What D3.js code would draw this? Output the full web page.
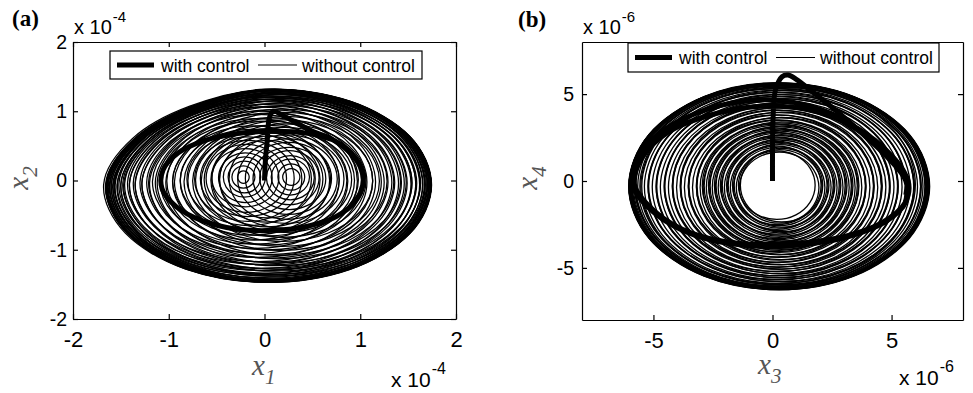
<!DOCTYPE html>
<html><head><meta charset="utf-8">
<script src="https://cdn.jsdelivr.net/npm/d3@7"></script>
<style>body{margin:0;background:#fff}svg{display:block}</style>
</head><body>
<svg id="c" width="973" height="393"></svg>
<script>
// ---------- DATA (units: panel a ×1e-4, panel b ×1e-6) ----------
const ticksA = [-2, -1, 0, 1, 2];
const ticksB = [-5, 0, 5];
const legendLabels = ["with control", "without control"];

// outline of the large loops, read at 0°,30°,...,330° (relative radius)
const shapeA = [1, 1, 0.995, 0.985, 0.935, 0.95, 1, 1, 1, 1, 1, 1];
const shapeB = [1, 1, 1, 1, 1, 1, 1, 1, 1, 1, 1, 1];

// panel (a) uncontrolled trajectory, read as loops [cx, cy, rx, ry]
const freeLoopsA = [
  // loops centred left of origin
  [-0.22,0.05,0.06,0.09],[-0.22,0.05,0.12,0.16],[-0.21,0.05,0.17,0.23],[-0.21,0.05,0.22,0.29],
  [-0.20,0.04,0.28,0.36],[-0.20,0.04,0.35,0.42],[-0.19,0.03,0.42,0.49],[-0.18,0.03,0.49,0.55],
  [-0.17,0.02,0.56,0.61],[-0.16,0.02,0.65,0.67],[-0.15,0.01,0.73,0.73],[-0.14,0.00,0.82,0.79],
  [-0.12,0.00,0.90,0.86],[-0.11,-0.01,0.98,0.91],[-0.10,-0.01,1.07,0.97],[-0.08,-0.02,1.15,1.03],
  [-0.07,-0.02,1.23,1.09],[-0.06,-0.03,1.31,1.14],[-0.05,-0.03,1.38,1.18],[-0.04,-0.04,1.44,1.23],
  [-0.03,-0.04,1.49,1.26],[-0.02,-0.05,1.55,1.29],[-0.01,-0.05,1.59,1.32],[0.00,-0.06,1.62,1.34],
  [0.00,-0.06,1.65,1.37],[0.01,-0.06,1.67,1.39],[0.01,-0.06,1.69,1.40],
  // loops centred right of origin
  [0.28,0.05,0.09,0.12],[0.28,0.05,0.14,0.19],[0.27,0.05,0.20,0.26],[0.27,0.04,0.25,0.32],
  [0.26,0.04,0.31,0.39],[0.26,0.03,0.38,0.45],[0.25,0.03,0.45,0.52],[0.24,0.02,0.52,0.58],
  [0.23,0.02,0.60,0.64],[0.22,0.01,0.69,0.70],[0.21,0.01,0.77,0.76],[0.20,0.00,0.86,0.82],
  [0.19,0.00,0.94,0.88],[0.18,-0.01,1.02,0.94],[0.17,-0.01,1.11,1.00],[0.16,-0.02,1.19,1.06],
  [0.15,-0.02,1.27,1.11],[0.14,-0.03,1.34,1.16],[0.13,-0.03,1.41,1.20],[0.12,-0.04,1.47,1.24],
  [0.11,-0.04,1.52,1.27],[0.10,-0.05,1.57,1.31],[0.10,-0.05,1.60,1.33],[0.09,-0.06,1.63,1.36],
  [0.09,-0.06,1.65,1.38],[0.08,-0.06,1.66,1.39],
  // loops centred near origin (fill and outer band)
  [0.03,0.02,0.50,0.56],[0.03,0.02,0.58,0.62],[0.03,0.01,0.66,0.68],[0.03,0.01,0.75,0.74],
  [0.03,0.00,0.83,0.80],[0.03,0.00,0.91,0.86],[0.03,-0.01,0.99,0.92],[0.03,-0.01,1.10,0.99],
  [0.04,-0.02,1.18,1.05],[0.04,-0.02,1.25,1.10],[0.04,-0.03,1.32,1.15],[0.04,-0.03,1.39,1.19],
  [0.04,-0.04,1.45,1.23],[0.04,-0.04,1.50,1.26],[0.04,-0.05,1.54,1.29],[0.045,-0.05,1.58,1.31],
  [0.045,-0.05,1.61,1.33],[0.045,-0.06,1.63,1.35],[0.045,-0.06,1.645,1.37],[0.045,-0.06,1.66,1.38],
  [0.045,-0.06,1.675,1.39],[0.045,-0.065,1.685,1.395],[0.045,-0.065,1.695,1.40],[0.045,-0.065,1.70,1.405],
  [0.05,-0.07,1.69,1.40],[0.04,-0.06,1.68,1.395],[0.06,-0.06,1.675,1.385],[0.03,-0.07,1.685,1.40]
];

// panel (a) controlled trajectory [x1, x2]
const ctrlPathA = [
  [0,0],[0.01,0.3],[0.03,0.6],[0.05,0.9],[0.09,1.0],[0.2,0.93],[0.35,0.82],[0.5,0.71],
  [0.7,0.6],[0.88,0.42],[1.0,0.2],[1.03,-0.05],[0.95,-0.3],[0.75,-0.52],[0.45,-0.66],
  [0.1,-0.72],[-0.3,-0.7],[-0.65,-0.58],[-0.92,-0.38],[-1.07,-0.12],[-1.06,0.15],
  [-0.9,0.4],[-0.62,0.58],[-0.28,0.68],[0.1,0.71],[0.45,0.68],[0.75,0.56],[0.95,0.33],
  [1.03,0.08],[1.0,-0.18],[0.88,-0.4]
];

// panel (b) uncontrolled trajectory, loops [cx, cy, rx, ry]
const freeLoopsB = [
  [0.18,-0.24,1.61,1.97],[0.38,-0.24,1.73,2.12],[0.18,-0.25,1.86,2.26],[0.38,-0.25,1.99,2.40],
  [0.18,-0.25,2.11,2.53],[0.38,-0.25,2.24,2.67],[0.18,-0.26,2.37,2.80],[0.38,-0.26,2.49,2.93],
  [0.18,-0.26,2.62,3.06],[0.38,-0.26,2.75,3.19],[0.18,-0.27,2.87,3.31],[0.38,-0.27,3.00,3.43],
  [0.18,-0.27,3.13,3.55],[0.38,-0.27,3.25,3.67],[0.18,-0.28,3.38,3.79],[0.38,-0.28,3.55,3.94],
  [0.18,-0.28,3.72,4.09],[0.38,-0.28,3.89,4.24],[0.18,-0.29,4.06,4.38],[0.38,-0.29,4.23,4.52],
  [0.18,-0.29,4.39,4.65],[0.38,-0.29,4.56,4.78],[0.18,-0.30,4.73,4.91],[0.38,-0.30,4.90,5.04],
  [0.18,-0.30,5.07,5.16],[0.38,-0.30,5.24,5.27],[0.18,-0.30,5.41,5.39],[0.38,-0.30,5.58,5.50],
  [0.18,-0.30,5.75,5.61],[0.38,-0.30,5.87,5.69],[0.22,-0.30,6.00,5.76],[0.34,-0.30,6.08,5.81],
  [0.26,-0.30,6.17,5.86],[0.30,-0.30,6.21,5.89],[0.28,-0.30,6.25,5.91],[0.28,-0.30,6.30,5.93],
  [0.10,-0.20,5.90,5.85],
  // second set of loops (interleaved)
  [0.28,-0.38,1.67,2.05],[0.28,-0.38,1.80,2.19],[0.28,-0.38,1.92,2.33],[0.28,-0.38,2.05,2.47],
  [0.28,-0.38,2.18,2.60],[0.28,-0.38,2.30,2.74],[0.28,-0.38,2.43,2.87],[0.28,-0.38,2.56,3.00],
  [0.28,-0.38,2.68,3.13],[0.28,-0.38,2.81,3.25],[0.28,-0.38,2.94,3.37],[0.28,-0.38,3.06,3.49],
  [0.28,-0.38,3.19,3.61],[0.28,-0.38,3.32,3.73],[0.28,-0.38,3.47,3.87],[0.28,-0.38,3.64,4.02],
  [0.28,-0.38,3.81,4.17],[0.28,-0.38,3.98,4.31],[0.28,-0.38,4.14,4.45],[0.28,-0.38,4.31,4.59],
  [0.28,-0.36,4.48,4.72],[0.28,-0.36,4.65,4.85],[0.28,-0.35,4.82,4.98],[0.28,-0.35,4.99,5.10],
  [0.28,-0.34,5.16,5.22],[0.28,-0.34,5.33,5.33],[0.28,-0.33,5.50,5.45],[0.28,-0.33,5.66,5.56],
  [0.28,-0.32,5.81,5.65],[0.28,-0.32,5.94,5.73],[0.28,-0.31,6.04,5.79],[0.28,-0.31,6.12,5.84],
  [0.28,-0.31,6.19,5.88],[0.28,-0.30,6.23,5.90],[0.28,-0.30,6.28,5.92],
  // outer band
  [0.25,-0.32,6.28,5.93],[0.31,-0.28,6.26,5.90],[0.28,-0.31,6.32,5.95],[0.22,-0.30,6.24,5.92],
  [0.34,-0.31,6.22,5.91],[0.28,-0.29,6.27,5.89]
];

// panel (b) controlled trajectory [x3, x4]
const ctrlPathB = [
  [0,0],[0,1.5],[0.02,3.5],[0.12,5.2],[0.4,6.0],[0.65,6.1],[1.0,5.85],[1.8,5.0],[2.8,3.9],
  [3.8,2.7],[4.8,1.4],[5.6,0.0],[5.6,-1.2],[4.8,-2.3],[3.2,-3.2],[1.0,-3.7],[-1.2,-3.7],
  [-3.3,-3.1],[-4.9,-1.9],[-5.85,-0.3],[-5.7,1.2],[-4.8,2.7],[-3.2,3.9],[-1.2,4.6],[0.5,4.6],
  [2.0,4.1],[3.5,3.0],[4.8,1.6],[5.7,0.0],[5.55,-1.3],[4.6,-2.4],[3.0,-3.2],[0.8,-3.6],
  [-1.4,-3.6],[-3.4,-3.0],[-4.9,-1.8],[-5.8,-0.2],[-5.5,1.3],[-4.4,2.8],[-2.6,3.8],
  [-0.5,4.3],[1.5,4.1],[3.2,3.3],[4.6,2.0],[5.6,0.3],[5.6,-0.8]
];

// ---------- DRAWING ----------
const svg = d3.select('#c');
const SANS = '"Liberation Sans", Arial, sans-serif';
const SERIF = '"Liberation Serif", "Times New Roman", serif';

function panel(p) {
  const x = d3.scaleLinear().domain(p.xd).range([p.l, p.r]);
  const y = d3.scaleLinear().domain(p.yd).range([p.b, p.t]);
  const g = svg.append('g');
  const cid = 'clip' + p.id;
  g.append('clipPath').attr('id', cid).append('rect')
    .attr('x', p.l).attr('y', p.t).attr('width', p.r - p.l).attr('height', p.b - p.t);
  const data = g.append('g').attr('clip-path', `url(#${cid})`);

  const closed = d3.line().x(d => x(d[0])).y(d => y(d[1])).curve(d3.curveCardinalClosed.tension(0));
  const rMax = d3.max(p.loops, d => d[2]);
  const loopPts = d => {
    const w = Math.max(0, Math.min(1, (d[2] - 0.35 * rMax) / (0.6 * rMax)));
    return p.shape.map((m, k) => {
      const a = k * Math.PI / 6, f = 1 - w * (1 - m);
      return [d[0] + d[2] * f * Math.cos(a), d[1] + d[3] * f * Math.sin(a)];
    });
  };
  data.selectAll('path.free').data(p.loops).join('path').attr('class', 'free')
    .attr('d', d => closed(loopPts(d)))
    .attr('fill', 'none').attr('stroke', '#000').attr('stroke-width', p.sw);

  const line = d3.line().x(d => x(d[0])).y(d => y(d[1])).curve(d3.curveCatmullRom);
  data.append('path').datum(p.ctrl).attr('d', line)
    .attr('fill', 'none').attr('stroke', '#000').attr('stroke-width', 5)
    .attr('stroke-linejoin', 'round').attr('stroke-linecap', 'butt');

  const fmt = d => String(d);
  const ax = (gen, tr) => g.append('g').attr('transform', tr).call(gen);
  const bottom = ax(d3.axisBottom(x).tickValues(p.xt).tickFormat(fmt).tickSizeInner(-5).tickSizeOuter(0).tickPadding(12), `translate(0,${p.b})`);
  bottom.selectAll('text').attr('font-size', 22).attr('font-family', SANS).attr('fill', '#000');
  const left = ax(d3.axisLeft(y).tickValues(p.yt).tickFormat(fmt).tickSizeInner(-5).tickSizeOuter(0).tickPadding(p.ypad), `translate(${p.l},0)`);
  left.selectAll('text').attr('font-size', 19.5).attr('font-family', SANS).attr('fill', '#000');
  ax(d3.axisTop(x).tickValues(p.xt).tickFormat('').tickSizeInner(-5).tickSizeOuter(0), `translate(0,${p.t})`);
  ax(d3.axisRight(y).tickValues(p.yt).tickFormat('').tickSizeInner(-5).tickSizeOuter(0), `translate(${p.r},0)`);
  g.selectAll('.domain, .tick line').attr('stroke', '#000').attr('stroke-width', 1.2);

  // legend
  const L = p.leg;
  const lg = g.append('g');
  lg.append('rect').attr('x', L.x).attr('y', L.y).attr('width', L.w).attr('height', L.h)
    .attr('fill', '#fff').attr('stroke', '#000').attr('stroke-width', 1.2);
  const ly = L.y + L.h / 2;
  lg.append('line').attr('x1', L.x + 7).attr('x2', L.x + 44).attr('y1', ly).attr('y2', ly)
    .attr('stroke', '#000').attr('stroke-width', 5);
  lg.append('text').attr('x', L.x + 51).attr('y', ly + 6.5).text(legendLabels[0])
    .attr('font-size', 17.5).attr('font-family', SANS);
  lg.append('line').attr('x1', L.x + 148).attr('x2', L.x + 187).attr('y1', ly).attr('y2', ly)
    .attr('stroke', '#000').attr('stroke-width', 1);
  lg.append('text').attr('x', L.x + 192).attr('y', ly + 6.5).text(legendLabels[1])
    .attr('font-size', 17.5).attr('font-family', SANS);

  // panel letter
  g.append('text').attr('x', p.letter[0]).attr('y', p.letter[1]).text(p.letterText)
    .attr('font-family', SERIF).attr('font-weight', 'bold').attr('font-size', 23);

  // exponent labels
  const expo = (xx, yy, fs, sfs, e) => {
    const t = g.append('text').attr('x', xx).attr('y', yy).attr('font-family', SANS).attr('font-size', fs);
    t.append('tspan').text('x 10');
    t.append('tspan').attr('dx', 1).attr('dy', -fs * 0.62).attr('font-size', sfs).text(e);
  };
  expo(p.expTop[0], p.expTop[1], 20, 15, p.exp);
  expo(p.expBot[0], p.expBot[1], 21, 16, p.exp);

  // axis labels
  const xl = g.append('text').attr('x', p.xlab[0]).attr('y', p.xlab[1])
    .attr('font-family', SERIF).attr('font-style', 'italic').attr('fill', '#555').attr('font-size', 29);
  xl.append('tspan').text('x');
  xl.append('tspan').attr('dy', 9).attr('font-size', 21).text(p.xsub);
  const yl = g.append('text').attr('transform', `translate(${p.ylab[0]},${p.ylab[1]}) rotate(-90)`)
    .attr('text-anchor', 'middle')
    .attr('font-family', SERIF).attr('font-style', 'italic').attr('fill', '#555').attr('font-size', 29);
  yl.append('tspan').text('x');
  yl.append('tspan').attr('dy', 9).attr('font-size', 21).text(p.ysub);
}

panel({
  id: 'a', xd: [-2, 2], yd: [-2, 2], l: 73, r: 456, t: 42, b: 319,
  xt: ticksA, yt: ticksA, ypad: 6, loops: freeLoopsA, ctrl: ctrlPathA, shape: shapeA, sw: 1.25,
  leg: { x: 110, y: 51, w: 312, h: 28 },
  letter: [12, 26], letterText: '(a)', exp: '-4',
  expTop: [74, 34], expBot: [391, 387],
  xlab: [252, 375], xsub: '1', ylab: [28, 178], ysub: '2'
});
panel({
  id: 'b', xd: [-8, 8], yd: [-8, 8], l: 582, r: 963, t: 42, b: 320,
  xt: ticksB, yt: ticksB, ypad: 8, loops: freeLoopsB, ctrl: ctrlPathB, shape: shapeB, sw: 1.3,
  leg: { x: 628, y: 43, w: 311, h: 29 },
  letter: [518, 27], letterText: '(b)', exp: '-6',
  expTop: [583, 34], expBot: [899, 385],
  xlab: [758, 374], xsub: '3', ylab: [537, 178], ysub: '4'
});
</script>
</body></html>
